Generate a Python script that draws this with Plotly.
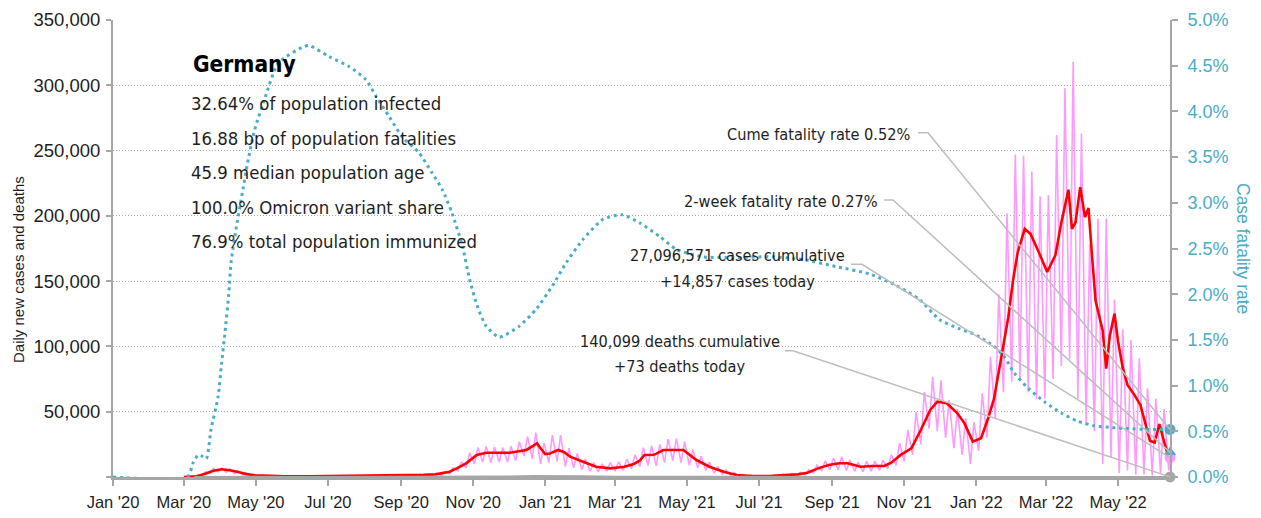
import pandas as pd
import plotly.graph_objects as go

# ---------------------------------------------------------------- data
# Daily new cases: weekly low (Monday) and weekly peak (Thursday), weeks from 2 Mar 2020
week_start = "2020-03-02"
cases_low = [
    # 2020 Mar - Dec
    0, 200, 1000, 3000, 4000,
    3500, 2500, 1500, 900,
    600, 400, 300, 250,
    200, 200, 300, 300, 250,
    250, 300, 350, 400,
    500, 600, 700, 700, 700,
    700, 800, 900, 1100,
    1500, 2500, 4500, 7000,
    10000, 11500, 11000, 11500, 11500,
    12500, 16000, 14000, 10000,
    # 2021
    11000, 12000, 8000, 7000,
    5500, 4500, 4000, 4500,
    4500, 5000, 6500, 8000, 9000,
    8500, 11000, 12500, 11000,
    9000, 7000, 5000, 3000, 2000,
    1000, 700, 500, 400,
    400, 500, 700, 900,
    1200, 1800, 3000, 4500, 5500,
    5500, 5000, 4500, 4000,
    4500, 5000, 6500, 9000,
    12000, 17000, 25000, 37000, 35000,
    30000, 22000, 17000, 10000,
    # 2022 Jan - Jun
    20000, 30000, 45000, 65000, 73000,
    74000, 65000, 60000, 60000,
    75000, 85000, 90000, 60000,
    40000, 35000, 10000, 15000,
    3000, 5000, 2000, 2000, 1000,
    3000, 5000,
]
cases_high = [
    # 2020 Mar - Dec
    150, 1200, 4000, 6500, 6800,
    6200, 4500, 3000, 1800,
    1300, 1000, 800, 700,
    600, 600, 900, 800, 600,
    600, 700, 800, 1000,
    1200, 1500, 1700, 1800, 1600,
    1700, 2000, 2200, 2700,
    4000, 7000, 11500, 18500,
    22500, 23500, 23000, 22500, 23500,
    27000, 31000, 34000, 26000,
    # 2021
    32000, 32000, 22000, 18000,
    14000, 11000, 10000, 11000,
    11500, 13500, 17000, 22500, 24000,
    25000, 29000, 29500, 27000,
    21000, 16000, 11500, 8000, 5500,
    3500, 2000, 1200, 1000,
    1000, 1400, 2000, 2800,
    3500, 5500, 9000, 12500, 14500,
    15500, 13000, 11500, 12000,
    12000, 13000, 17000, 26000,
    36000, 50000, 65000, 76500, 74000,
    59000, 52000, 45000, 42000,
    # 2022 Jan - Jun
    64000, 92000, 140000, 202000, 247000,
    246000, 234000, 215000, 216000,
    262000, 298000, 318000, 263000,
    178000, 198000, 198000, 136000,
    113000, 105000, 91000, 68000, 60000,
    52000,
]

last_date = "2022-06-14"
cases_today = 14857
deaths_today = 73
cases_cumulative = 27096571
deaths_cumulative = 140099
cume_cfr = 0.52
two_week_cfr = 0.27

# 7-day average of new cases
avg_dates = [
    "2020-03-01", "2020-03-08", "2020-03-12", "2020-03-19", "2020-03-26", "2020-04-02",
    "2020-04-09", "2020-04-16", "2020-04-23", "2020-04-30", "2020-05-10", "2020-05-25",
    "2020-06-15", "2020-06-25", "2020-07-15", "2020-08-01", "2020-08-20", "2020-09-01",
    "2020-09-20", "2020-09-30", "2020-10-06", "2020-10-12", "2020-10-18", "2020-10-26",
    "2020-11-04", "2020-11-12", "2020-12-02", "2020-12-10", "2020-12-16", "2020-12-22",
    "2020-12-25", "2020-12-28", "2021-01-01", "2021-01-05", "2021-01-12", "2021-01-17",
    "2021-01-22", "2021-02-02", "2021-02-13", "2021-02-25", "2021-03-09", "2021-03-17",
    "2021-03-22", "2021-03-26", "2021-04-03", "2021-04-11", "2021-04-28", "2021-05-09",
    "2021-05-20", "2021-06-01", "2021-06-12", "2021-06-25", "2021-07-10", "2021-07-19",
    "2021-08-03", "2021-08-11", "2021-08-20", "2021-08-29", "2021-09-07", "2021-09-14",
    "2021-09-25", "2021-10-05", "2021-10-15", "2021-10-21", "2021-10-29", "2021-11-07",
    "2021-11-15", "2021-11-23", "2021-11-29", "2021-12-07", "2021-12-16", "2021-12-22",
    "2021-12-29", "2022-01-05", "2022-01-11", "2022-01-16", "2022-01-22", "2022-01-28",
    "2022-02-01", "2022-02-05", "2022-02-11", "2022-02-16", "2022-02-23", "2022-03-02",
    "2022-03-09", "2022-03-14", "2022-03-20", "2022-03-23", "2022-03-26", "2022-03-30",
    "2022-04-03", "2022-04-06", "2022-04-09", "2022-04-12", "2022-04-18", "2022-04-21",
    "2022-04-24", "2022-04-28", "2022-05-01", "2022-05-05", "2022-05-09", "2022-05-15",
    "2022-05-20", "2022-05-24", "2022-05-28", "2022-06-01", "2022-06-05", "2022-06-08",
    "2022-06-12", "2022-06-14",
]
avg_values = [
    0, 150, 500, 2500, 4800, 5900,
    5200, 3800, 2200, 1300, 900, 600,
    450, 550, 450, 700, 1300, 1400,
    1600, 2000, 2800, 4000, 6600, 10500,
    16900, 18600, 18600, 19500, 20700, 24000,
    25800, 22000, 17600, 18000, 20700, 19000,
    15600, 11700, 7900, 6600, 7900, 10000,
    12500, 16900, 17000, 20700, 20700, 13000,
    7900, 4000, 1500, 700, 700, 1300,
    2000, 3300, 6600, 9200, 10500, 10500,
    7900, 8400, 8400, 11000, 16900, 22000,
    36000, 51400, 57700, 56500, 48800, 41100,
    27100, 29700, 45000, 60000, 91000, 122000,
    150000, 172000, 190000, 186000, 172000, 157000,
    170000, 195000, 220000, 190000, 195000, 222000,
    199000, 206000, 169000, 135000, 112000, 83000,
    108000, 125000, 104000, 83500, 70500, 62700,
    55000, 42000, 27700, 26400, 40600, 30300,
    17300, 14900,
]

# Cumulative case fatality rate, %
cfr_dates = [
    "2020-01-01", "2020-03-04", "2020-03-09", "2020-03-13", "2020-03-16", "2020-03-20",
    "2020-03-24", "2020-03-30", "2020-04-02", "2020-04-05", "2020-04-08", "2020-04-10",
    "2020-04-14", "2020-04-19", "2020-04-24", "2020-04-30", "2020-05-09", "2020-05-20",
    "2020-06-09", "2020-06-15", "2020-07-02", "2020-07-19", "2020-08-02", "2020-08-11",
    "2020-08-22", "2020-09-02", "2020-09-16", "2020-09-27", "2020-10-06", "2020-10-14",
    "2020-10-23", "2020-10-29", "2020-11-05", "2020-11-12", "2020-11-23", "2020-12-10",
    "2020-12-24", "2021-01-07", "2021-01-19", "2021-02-02", "2021-02-19", "2021-03-07",
    "2021-03-22", "2021-04-08", "2021-04-22", "2021-05-14", "2021-06-12", "2021-07-10",
    "2021-08-07", "2021-09-05", "2021-10-03", "2021-10-26", "2021-11-14", "2021-12-01",
    "2021-12-18", "2021-12-27", "2022-01-04", "2022-01-16", "2022-01-25", "2022-02-02",
    "2022-02-14", "2022-02-28", "2022-03-14", "2022-03-28", "2022-04-11", "2022-04-26",
    "2022-05-10", "2022-05-24", "2022-06-08", "2022-06-14",
]
cfr_values = [
    0, 0, 0.16, 0.24, 0.23, 0.20,
    0.52, 0.88, 1.25, 1.60, 2.00, 2.35,
    2.70, 3.07, 3.44, 3.80, 4.16, 4.53,
    4.70, 4.72, 4.60, 4.49, 4.35, 4.16,
    3.94, 3.72, 3.55, 3.33, 3.14, 2.89,
    2.52, 2.16, 1.85, 1.65, 1.53, 1.65,
    1.83, 2.09, 2.35, 2.60, 2.82, 2.87,
    2.78, 2.63, 2.49, 2.41, 2.40, 2.41,
    2.38, 2.30, 2.22, 2.09, 1.94, 1.72,
    1.62, 1.58, 1.53, 1.43, 1.31, 1.14,
    0.97, 0.82, 0.70, 0.61, 0.56, 0.54,
    0.53, 0.52, 0.52, 0.52,
]

# Daily deaths
death_dates = [
    "2020-03-10", "2020-04-10", "2020-05-01", "2020-06-01", "2020-07-01", "2020-08-01",
    "2020-09-01", "2020-10-01", "2020-11-01", "2020-12-01", "2020-12-22", "2021-01-10",
    "2021-02-01", "2021-03-01", "2021-04-01", "2021-05-01", "2021-06-01", "2021-07-01",
    "2021-08-01", "2021-09-01", "2021-10-01", "2021-11-01", "2021-12-01", "2022-01-01",
    "2022-02-01", "2022-03-01", "2022-04-01", "2022-05-01", "2022-06-01", "2022-06-14",
]
death_values = [
    0, 230, 150, 30, 8, 5,
    6, 10, 80, 400, 800, 900,
    600, 270, 150, 230, 80, 30,
    15, 40, 60, 100, 330, 250,
    170, 200, 230, 150, 80, 73,
]

stats_title = "Germany"
stats_lines = [
    "32.64% of population infected",
    "16.88 bp of population fatalities",
    "45.9 median population age",
    "100.0% Omicron variant share",
    "76.9% total population immunized",
]

# ---------------------------------------------------------------- styling
TEAL = "#4BACC6"
PINK = "#FF99FF"
RED = "#FF0000"
AXIS_GRAY = "#A6A6A6"
GRID_GRAY = "#ABABAB"
LEADER_GRAY = "#BDBDBD"
TEXT = "#1E1E1E"
NARROW = "DejaVu Sans Condensed, Liberation Sans Narrow, sans-serif"
REGULAR = "Liberation Sans, Arial, sans-serif"

Y_MAX = 350000
Y2_MAX = 5.0

# plot-area geometry in pixels (used to place the text blocks)
L, R, T, B = 113, 91, 20, 41
W, H = 1261, 518
PW, PH = W - L - R, H - T - B


def px(x):
    return (x - L) / PW


def py(y):
    return (H - B - y) / PH


# ---------------------------------------------------------------- series
mondays = pd.date_range(week_start, periods=len(cases_low), freq="7D")
daily_x, daily_y = [], []
for i, monday in enumerate(mondays):
    daily_x.append(monday)
    daily_y.append(cases_low[i])
    if i < len(cases_high):
        daily_x.append(monday + pd.Timedelta(days=3))
        daily_y.append(cases_high[i])
daily_x.append(pd.Timestamp(last_date))
daily_y.append(cases_today)

fig = go.Figure()

fig.add_trace(go.Scatter(x=daily_x, y=daily_y, mode="lines",
                         line=dict(color=PINK, width=1.6), hoverinfo="skip"))
fig.add_trace(go.Scatter(x=pd.to_datetime(avg_dates), y=avg_values, mode="lines",
                         line=dict(color=RED, width=2.6), hoverinfo="skip"))
fig.add_trace(go.Scatter(x=pd.to_datetime(death_dates), y=death_values, mode="lines",
                         line=dict(color=AXIS_GRAY, width=2), hoverinfo="skip"))
fig.add_trace(go.Scatter(x=pd.to_datetime(cfr_dates), y=cfr_values, mode="lines",
                         yaxis="y2",
                         line=dict(color=TEAL, width=3, dash="3px,3.8px",
                                   shape="spline", smoothing=0.6),
                         hoverinfo="skip"))

# end-of-series markers
end = pd.Timestamp(last_date)
fig.add_trace(go.Scatter(x=[end], y=[deaths_today], mode="markers", cliponaxis=False,
                         marker=dict(color=AXIS_GRAY, size=11), hoverinfo="skip"))
fig.add_trace(go.Scatter(x=[end], y=[cases_today], mode="markers", cliponaxis=False,
                         marker=dict(color=PINK, size=11), hoverinfo="skip"))
fig.add_trace(go.Scatter(x=[end], y=[two_week_cfr], mode="markers", cliponaxis=False,
                         yaxis="y2",
                         marker=dict(color=TEAL, size=11, symbol="triangle-up"),
                         hoverinfo="skip"))
fig.add_trace(go.Scatter(x=[end], y=[cume_cfr], mode="markers", cliponaxis=False,
                         yaxis="y2", marker=dict(color=TEAL, size=11), hoverinfo="skip"))

# ---------------------------------------------------------------- text
ann = []
ann.append(dict(text=f"<b>{stats_title}</b>", x=px(191), y=py(64),
                xref="paper", yref="paper",
                xanchor="left", yanchor="middle", showarrow=False,
                font=dict(family=NARROW, size=22.5, color="#000000")))
line_centers = [103.5, 138, 172.5, 207, 241.5]
for text, yc in zip(stats_lines, line_centers):
    ann.append(dict(text=text, x=px(189), y=py(yc), xref="paper", yref="paper",
                    xanchor="left", yanchor="middle", showarrow=False,
                    font=dict(family=NARROW, size=18.4, color=TEXT)))

callouts = [
    (f"Cume fatality rate {cume_cfr:.2f}%", 913, 134.5, "right"),
    (f"2-week fatality rate {two_week_cfr:.2f}%", 880, 201.3, "right"),
    (f"{cases_cumulative:,} cases cumulative", 737, 255, "center"),
    (f"+{cases_today:,} cases today", 737, 281, "center"),
    (f"{deaths_cumulative:,} deaths cumulative", 679.5, 341, "center"),
    (f"+{deaths_today:,} deaths today", 679.5, 366.7, "center"),
]
for text, xx, yc, anchor in callouts:
    ann.append(dict(text=text, x=px(xx), y=py(yc), xref="paper", yref="paper",
                    xanchor=anchor, yanchor="middle", showarrow=False,
                    font=dict(family=NARROW, size=16.2, color=TEXT)))

# axis titles
ann.append(dict(text="Daily new cases and deaths", x=px(18), y=py(270),
                xref="paper", yref="paper", textangle=-90, showarrow=False,
                xanchor="center", yanchor="middle",
                font=dict(family=REGULAR, size=15, color=TEXT)))
ann.append(dict(text="Case fatality rate", x=px(1243), y=py(248),
                xref="paper", yref="paper", textangle=90, showarrow=False,
                xanchor="center", yanchor="middle",
                font=dict(family=REGULAR, size=17.5, color=TEAL)))

# leader lines from the call-outs to the end-of-series markers
leaders = [
    ((918, 132.7), 928, cume_cfr / Y2_MAX),
    ((884, 200.0), 893, two_week_cfr / Y2_MAX),
    ((851, 264.3), 862, cases_today / Y_MAX),
    ((785, 350.7), 793, deaths_today / Y_MAX),
]
shapes = []
for (x0, y0), x1, y_end in leaders:
    path = f"M {px(x0)},{py(y0)} L {px(x1)},{py(y0)} L 1,{y_end}"
    shapes.append(dict(type="path", path=path, xref="paper", yref="paper",
                       line=dict(color=LEADER_GRAY, width=1.5), layer="above"))

# ---------------------------------------------------------------- layout
left_ticks = list(range(0, Y_MAX + 1, 50000))
right_ticks = [i * 0.5 for i in range(11)]

fig.update_layout(
    width=W, height=H,
    margin=dict(l=L, r=R, t=T, b=B, pad=0),
    paper_bgcolor="white", plot_bgcolor="white",
    showlegend=False,
    font=dict(family=REGULAR, size=17, color=TEXT),
    annotations=ann,
    shapes=shapes,
    xaxis=dict(
        type="date",
        range=["2020-01-01", last_date],
        tick0="2020-01-01", dtick="M2", tickformat="%b '%y",
        showgrid=False, zeroline=False,
        showline=True, linecolor=AXIS_GRAY, linewidth=2.5,
        ticks="outside", ticklen=6, tickwidth=1.5, tickcolor=AXIS_GRAY,
        tickfont=dict(family=REGULAR, size=16.5, color=TEXT),
        ticklabelstandoff=2,
        automargin=False,
    ),
    yaxis=dict(
        range=[0, Y_MAX],
        tickvals=left_ticks,
        ticktext=["" if v == 0 else f"{v:,}" for v in left_ticks],
        showgrid=True, gridcolor=GRID_GRAY, gridwidth=1, griddash="1px,2px",
        zeroline=False,
        showline=True, linecolor=AXIS_GRAY, linewidth=2,
        ticks="outside", ticklen=5, tickwidth=1.5, tickcolor=AXIS_GRAY,
        tickfont=dict(family=REGULAR, size=18.5, color=TEXT),
        ticklabelstandoff=2,
        automargin=False,
    ),
    yaxis2=dict(
        overlaying="y", side="right",
        range=[0, Y2_MAX],
        tickvals=right_ticks,
        ticktext=[f"{v:.1f}%" for v in right_ticks],
        showgrid=False, zeroline=False,
        showline=True, linecolor=AXIS_GRAY, linewidth=2,
        ticks="outside", ticklen=6, tickwidth=1.5, tickcolor=AXIS_GRAY,
        tickfont=dict(family=REGULAR, size=18, color=TEAL),
        ticklabelstandoff=6,
        automargin=False,
    ),
)

fig.write_html("out.html", config={"displayModeBar": False})
